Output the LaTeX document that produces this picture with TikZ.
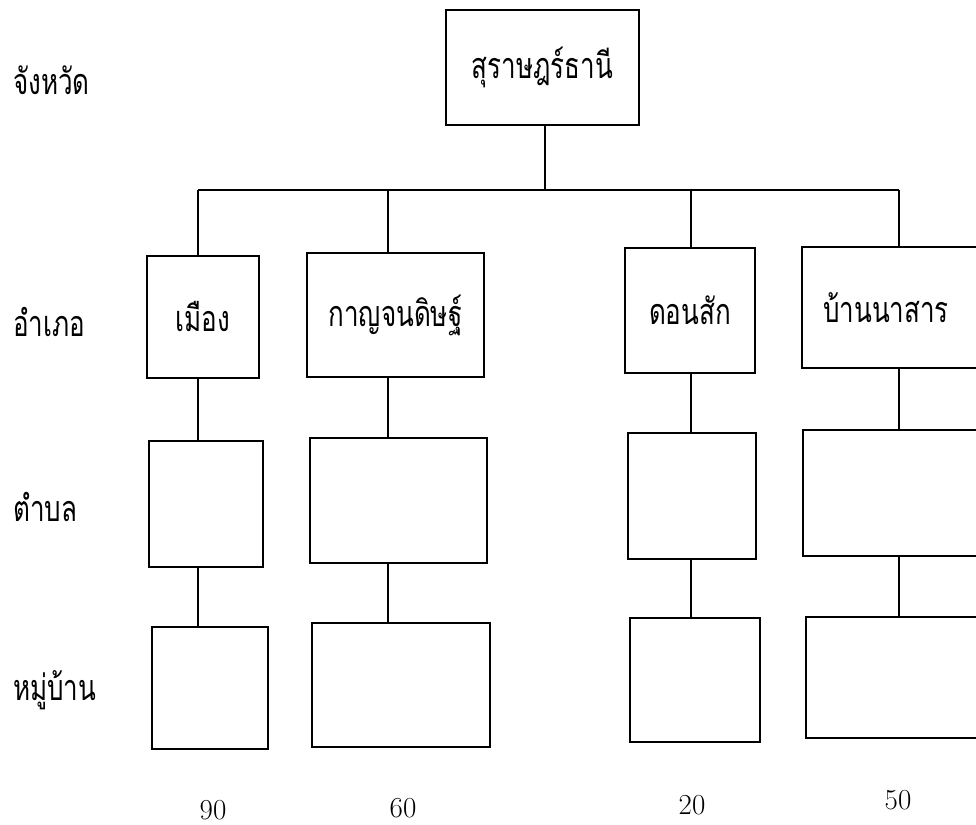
\documentclass[tikz,border=0pt]{standalone}
\usepackage{fontspec}
\newfontfamily\thai[Script=Thai]{Loma}
\newcommand\thx[1]{\scalebox{1}[1.38]{\thai\fontsize{26}{30}\selectfont #1}}
\begin{document}
\begin{tikzpicture}[x=1pt,y=-1pt,
  box/.style={draw,line width=2.6pt,inner sep=0pt},
  lvl/.style={anchor=west,inner sep=0pt},
  num/.style={inner sep=0pt,font=\fontsize{29}{32}\selectfont},
  link/.style={line width=2pt}]
\useasboundingbox (0,0) rectangle (976,824);
% level labels
\node[lvl] (l1) at (13,80) {\thx{จังหวัด}};
\node[lvl] (l2) at (13,322) {\thx{อำเภอ}};
\node[lvl] (l3) at (13,507) {\thx{ตำบล}};
\node[lvl] (l4) at (13,690) {\thx{หมู่บ้าน}};
% province
\node[box,minimum width=193,minimum height=115] (prov) at (542.5,67.5) {\thx{สุราษฎร์ธานี}};
% districts
\node[box,minimum width=112,minimum height=122] (a1) at (203,317) {\thx{เมือง}};
\node[box,minimum width=177,minimum height=124] (a2) at (395.5,315) {\thx{กาญจนดิษฐ์}};
\node[box,minimum width=130,minimum height=125] (a3) at (690,310.5) {\thx{ดอนสัก}};
\node[box,minimum width=180,minimum height=121] (a4) at (892,307.5) {\hspace*{-12pt}\thx{บ้านนาสาร}};
% subdistricts
\node[box,minimum width=114,minimum height=126] (t1) at (206,504) {};
\node[box,minimum width=177,minimum height=125] (t2) at (398.5,500.5) {};
\node[box,minimum width=128,minimum height=126] (t3) at (692,496) {};
\node[box,minimum width=182,minimum height=126] (t4) at (894,493) {};
% villages
\node[box,minimum width=116,minimum height=122] (v1) at (210,688) {};
\node[box,minimum width=178,minimum height=124] (v2) at (401,685) {};
\node[box,minimum width=130,minimum height=124] (v3) at (695,680) {};
\node[box,minimum width=184,minimum height=121] (v4) at (898,677.5) {};
% numbers
\node[num] (n1) at (213,810) {90};
\node[num] (n2) at (403,808) {60};
\node[num] (n3) at (692,805) {20};
\node[num] (n4) at (898,800) {50};
% connector columns
\coordinate (k1) at (198,190);
\coordinate (k2) at (388,190);
\coordinate (k3) at (691,190);
\coordinate (k4) at (899,190);
\coordinate (k0) at (545,190);
\draw[link] (prov.south -| k0) -- (k0);
\draw[link] (k1) -- (k4);
\foreach \i in {1,2,3,4}{
  \draw[link] (k\i) -- (k\i |- a\i.north);
  \draw[link] (a\i.south -| k\i) -- (t\i.north -| k\i);
  \draw[link] (t\i.south -| k\i) -- (v\i.north -| k\i);
}
\end{tikzpicture}
\end{document}
